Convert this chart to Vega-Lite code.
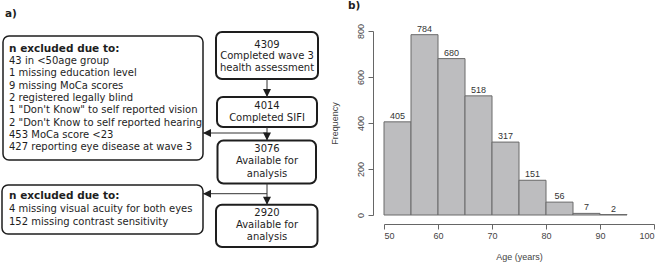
{
  "$schema": "https://vega.github.io/schema/vega-lite/v6.json",
  "padding": 0,
  "background": "white",
  "spacing": 5,
  "config": {
    "view": {"stroke": null},
    "title": {"anchor": "start", "frame": "group", "font": "DejaVu Sans", "fontSize": 10.5, "fontWeight": "bold", "color": "#1e1e1e", "offset": 12},
    "axis": {
      "grid": false,
      "labelFont": "Liberation Sans",
      "labelFontSize": 9,
      "labelColor": "#444",
      "titleFont": "Liberation Sans",
      "titleFontSize": 9,
      "titleFontWeight": "normal",
      "titleColor": "#444",
      "domainColor": "#666",
      "tickColor": "#666",
      "tickSize": 5
    }
  },
  "datasets": {
    "boxes": [
      {"id": "ex1", "kind": "exclusion", "x1": 3, "x2": 203, "y1": 33, "y2": 157},
      {"id": "ex2", "kind": "exclusion", "x1": 2, "x2": 203, "y1": 182, "y2": 231},
      {"id": "s1", "kind": "step", "x1": 216, "x2": 318, "y1": 29, "y2": 76},
      {"id": "s2", "kind": "step", "x1": 217, "x2": 317, "y1": 94, "y2": 124},
      {"id": "s3", "kind": "step", "x1": 217.5, "x2": 316, "y1": 137.5, "y2": 180.5},
      {"id": "s4", "kind": "step", "x1": 216, "x2": 317.5, "y1": 201.7, "y2": 244}
    ],
    "links": [
      {"x1": 267, "y1": 76, "x2": 267, "y2": 94, "dir": "down"},
      {"x1": 267, "y1": 124, "x2": 267, "y2": 137.5, "dir": "down"},
      {"x1": 267, "y1": 130, "x2": 203, "y2": 130, "dir": "left"},
      {"x1": 267, "y1": 180.5, "x2": 267, "y2": 201.7, "dir": "down"},
      {"x1": 267, "y1": 190.7, "x2": 203, "y2": 190.7, "dir": "left"}
    ],
    "lefttext": [
      {"x": 9, "y": 45.7, "t": "n excluded due to:", "role": "header"},
      {"x": 9, "y": 58, "t": "43 in <50age group", "role": "line"},
      {"x": 9, "y": 70.3, "t": "1 missing education level", "role": "line"},
      {"x": 9, "y": 82.6, "t": "9 missing MoCa scores", "role": "line"},
      {"x": 9, "y": 94.9, "t": "2 registered legally blind", "role": "line"},
      {"x": 9, "y": 107.2, "t": "1 \"Don't Know\" to self reported vision", "role": "line"},
      {"x": 9, "y": 119.5, "t": "2 \"Don't Know to self reported hearing", "role": "line"},
      {"x": 9, "y": 131.8, "t": "453 MoCa score <23", "role": "line"},
      {"x": 9, "y": 144.1, "t": "427 reporting eye disease at wave 3", "role": "line"},
      {"x": 9, "y": 193.3, "t": "n excluded due to:", "role": "header"},
      {"x": 9, "y": 206.2, "t": "4 missing visual acuity for both eyes", "role": "line"},
      {"x": 9, "y": 218.8, "t": "152 missing contrast sensitivity", "role": "line"}
    ],
    "steptext": [
      {"x": 267, "y": 41.7, "t": "4309"},
      {"x": 267, "y": 53.3, "t": "Completed wave 3"},
      {"x": 267, "y": 65, "t": "health assessment"},
      {"x": 267, "y": 102.7, "t": "4014"},
      {"x": 267, "y": 115, "t": "Completed SIFI"},
      {"x": 267, "y": 145.7, "t": "3076"},
      {"x": 267, "y": 158.3, "t": "Available for"},
      {"x": 267, "y": 170.7, "t": "analysis"},
      {"x": 267, "y": 210, "t": "2920"},
      {"x": 267, "y": 222.2, "t": "Available for"},
      {"x": 267, "y": 234.4, "t": "analysis"}
    ],
    "ages": [
      {"start": 50, "end": 55, "count": 405},
      {"start": 55, "end": 60, "count": 784},
      {"start": 60, "end": 65, "count": 680},
      {"start": 65, "end": 70, "count": 518},
      {"start": 70, "end": 75, "count": 317},
      {"start": 75, "end": 80, "count": 151},
      {"start": 80, "end": 85, "count": 56},
      {"start": 85, "end": 90, "count": 7},
      {"start": 90, "end": 95, "count": 2}
    ]
  },
  "hconcat": [
    {
      "width": 325,
      "height": 237,
      "title": {"text": "a)", "dx": 5},
      "layer": [
        {
          "data": {"name": "boxes"},
          "transform": [{"filter": "datum.kind === 'exclusion'"}],
          "mark": {"type": "rect", "fill": "white", "stroke": "#1e1e1e", "strokeWidth": 1.5, "cornerRadius": 6},
          "encoding": {
            "x": {"field": "x1", "type": "quantitative", "scale": {"domain": [0, 325], "nice": false, "zero": false}, "axis": null},
            "x2": {"field": "x2"},
            "y": {"field": "y1", "type": "quantitative", "scale": {"domain": [28, 265], "nice": false, "zero": false, "reverse": true}, "axis": null},
            "y2": {"field": "y2"}
          }
        },
        {
          "data": {"name": "boxes"},
          "transform": [{"filter": "datum.kind === 'step'"}],
          "mark": {"type": "rect", "fill": "white", "stroke": "#1e1e1e", "strokeWidth": 2, "cornerRadius": 6},
          "encoding": {
            "x": {"field": "x1", "type": "quantitative"},
            "x2": {"field": "x2"},
            "y": {"field": "y1", "type": "quantitative"},
            "y2": {"field": "y2"}
          }
        },
        {
          "data": {"name": "links"},
          "mark": {"type": "rule", "stroke": "#333", "strokeWidth": 1},
          "encoding": {
            "x": {"field": "x1", "type": "quantitative"},
            "x2": {"field": "x2"},
            "y": {"field": "y1", "type": "quantitative"},
            "y2": {"field": "y2"}
          }
        },
        {
          "data": {"name": "links"},
          "transform": [{"filter": "datum.dir === 'down'"}],
          "mark": {"type": "point", "shape": "M-1,-2L1,-2L0,0Z", "filled": true, "size": 64, "color": "#1e1e1e", "opacity": 1},
          "encoding": {
            "x": {"field": "x2", "type": "quantitative"},
            "y": {"field": "y2", "type": "quantitative"}
          }
        },
        {
          "data": {"name": "links"},
          "transform": [{"filter": "datum.dir === 'left'"}],
          "mark": {"type": "point", "shape": "M2,-1L2,1L0,0Z", "filled": true, "size": 64, "color": "#1e1e1e", "opacity": 1},
          "encoding": {
            "x": {"field": "x2", "type": "quantitative"},
            "y": {"field": "y2", "type": "quantitative"}
          }
        },
        {
          "data": {"name": "lefttext"},
          "transform": [{"filter": "datum.role === 'line'"}],
          "mark": {"type": "text", "align": "left", "baseline": "middle", "font": "DejaVu Sans", "fontSize": 10, "color": "#1e1e1e"},
          "encoding": {
            "x": {"field": "x", "type": "quantitative"},
            "y": {"field": "y", "type": "quantitative"},
            "text": {"field": "t"}
          }
        },
        {
          "data": {"name": "lefttext"},
          "transform": [{"filter": "datum.role === 'header'"}],
          "mark": {"type": "text", "align": "left", "baseline": "middle", "font": "DejaVu Sans", "fontSize": 10.5, "fontWeight": "bold", "color": "#1e1e1e"},
          "encoding": {
            "x": {"field": "x", "type": "quantitative"},
            "y": {"field": "y", "type": "quantitative"},
            "text": {"field": "t"}
          }
        },
        {
          "data": {"name": "steptext"},
          "mark": {"type": "text", "align": "center", "baseline": "middle", "font": "DejaVu Sans", "fontSize": 10, "color": "#1e1e1e"},
          "encoding": {
            "x": {"field": "x", "type": "quantitative"},
            "y": {"field": "y", "type": "quantitative"},
            "text": {"field": "t"}
          }
        }
      ]
    },
    {
      "width": 270,
      "height": 184,
      "title": {"text": "b)", "dx": -36},
      "data": {"name": "ages"},
      "layer": [
        {
          "mark": {"type": "rect", "fill": "#bdbdbf", "stroke": "#6a6a6a", "strokeWidth": 1},
          "encoding": {
            "x": {"field": "start", "type": "quantitative", "scale": {"domain": [50, 100], "nice": false},
                  "axis": {"values": [50, 60, 70, 80, 90, 100], "title": "Age (years)", "offset": 9, "labelPadding": 2, "titlePadding": 12}},
            "x2": {"field": "end"},
            "y": {"field": "count", "type": "quantitative", "scale": {"domain": [0, 800], "nice": false},
                  "axis": {"values": [0, 200, 400, 600, 800], "title": "Frequency", "offset": 11, "labelAngle": 270, "labelAlign": "center", "labelBaseline": "bottom", "labelPadding": 3, "titlePadding": 17}},
            "y2": {"datum": 0}
          }
        },
        {
          "mark": {"type": "text", "font": "Liberation Sans", "fontSize": 9, "color": "#333", "baseline": "alphabetic", "dx": 13.5, "dy": -3},
          "encoding": {
            "x": {"field": "start", "type": "quantitative"},
            "y": {"field": "count", "type": "quantitative"},
            "text": {"field": "count"}
          }
        }
      ]
    }
  ]
}
